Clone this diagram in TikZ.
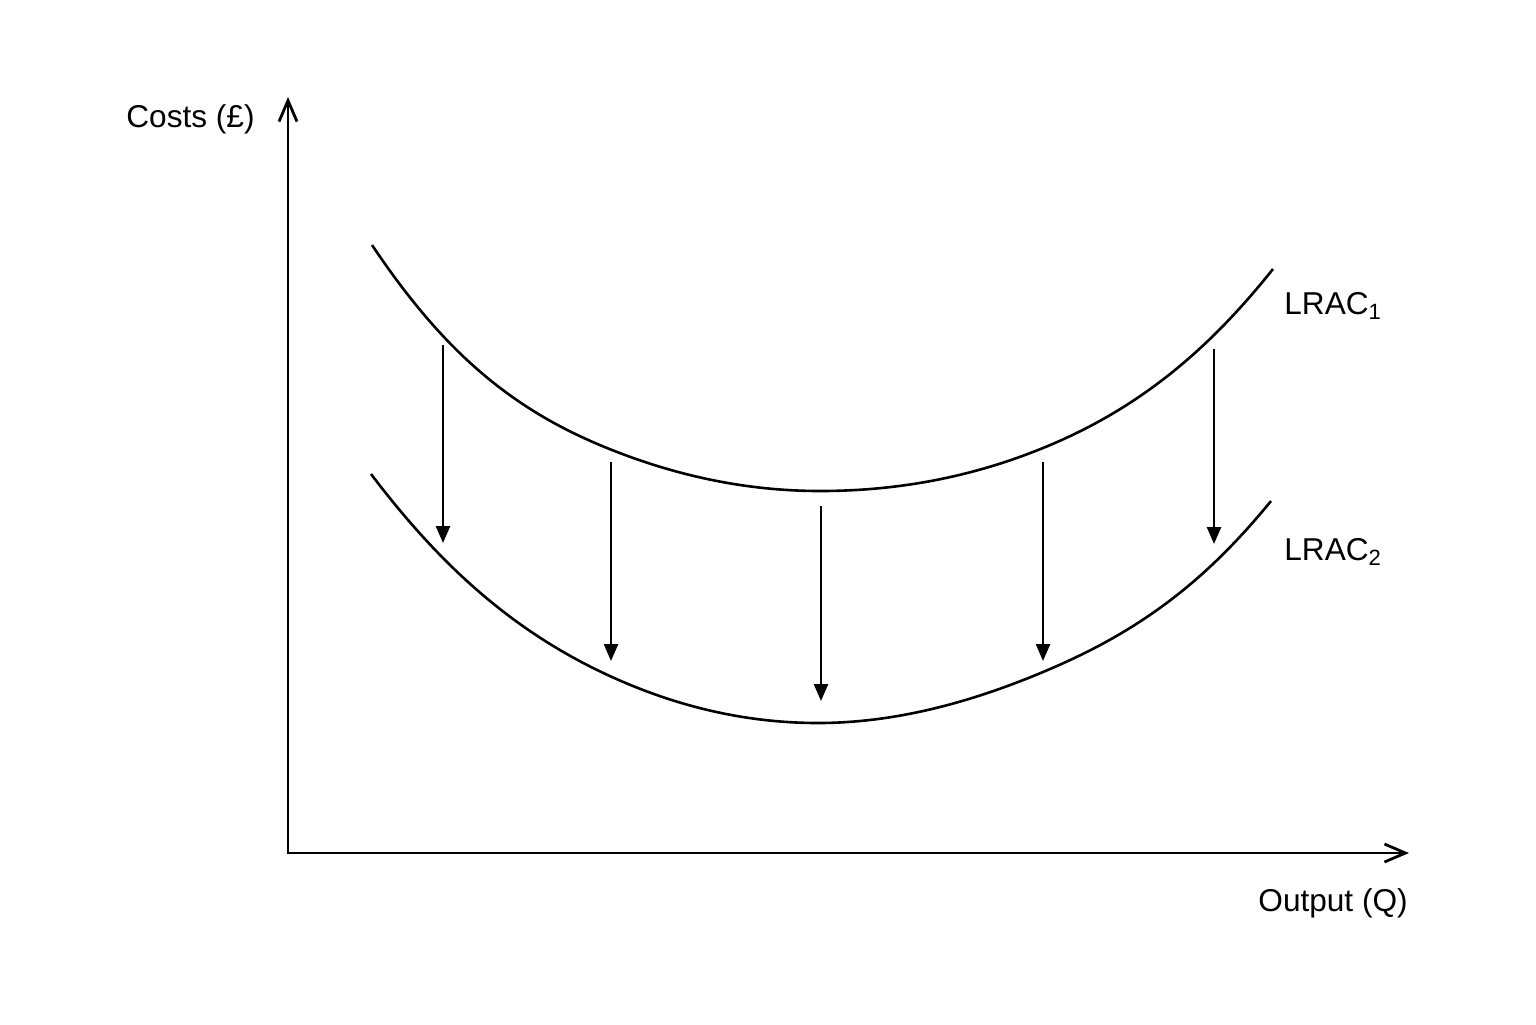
\documentclass[tikz,border=0pt]{standalone}
\usepackage{fontspec}
\setmainfont{Liberation Sans}
\usetikzlibrary{arrows.meta}
\begin{document}
\begin{tikzpicture}[x=0.5pt,y=-0.5pt,
  axis/.style={line width=1.4pt,line join=miter,
    {Straight Barb[length=10.5pt,width=9pt]}-{Straight Barb[length=10.5pt,width=9pt]}},
  costcurve/.style={line width=1.3pt},
  shiftarrow/.style={line width=1.25pt,-{Triangle[length=8.5pt,width=7pt]}},
  lbl/.style={font=\fontsize{15.8}{18}\selectfont,inner sep=0pt,anchor=base west}]
\useasboundingbox[fill=white] (0,0) rectangle (1536,1024);

% axes
\coordinate (O) at (288,853);
\coordinate (ytip) at (288,97);
\coordinate (xtip) at (1409,853);
\draw[axis] (ytip) -- (O) -- (xtip);

% LRAC1
\coordinate (U1) at (372,245);
\coordinate (U2) at (443,336);
\coordinate (U3) at (612,450);
\coordinate (U4) at (820,491);
\coordinate (U5) at (1043,448);
\coordinate (U6) at (1214,335);
\coordinate (U7) at (1273,269);
\draw[costcurve] (U1)
  .. controls (395.67,280.41) and (419.33,310.72) .. (U2)
  .. controls (499.33,396.16) and (555.67,427.69) .. (U3)
  .. controls (681.33,477.46) and (750.67,491) .. (U4)
  .. controls (894.33,491) and (968.67,478.33) .. (U5)
  .. controls (1100,424.74) and (1157,391.03) .. (U6)
  .. controls (1233.67,315.67) and (1253.33,293.66) .. (U7);

% LRAC2
\coordinate (L1) at (371,474);
\coordinate (L2) at (443,558);
\coordinate (L3) at (612,677);
\coordinate (L4) at (818,723);
\coordinate (L5) at (1043,672);
\coordinate (L6) at (1214,563);
\coordinate (L7) at (1271,501);
\draw[costcurve] (L1)
  .. controls (395,505.72) and (419,533.72) .. (L2)
  .. controls (499.33,614.99) and (555.67,651.46) .. (L3)
  .. controls (680.67,708.13) and (749.33,723) .. (L4)
  .. controls (893,723) and (968,703.5) .. (L5)
  .. controls (1100,648.06) and (1157,617.21) .. (L6)
  .. controls (1233,544.93) and (1252,524.26) .. (L7);

% shift arrows
\coordinate (a1s) at (443,345);  \coordinate (a1e) at (443,543);
\coordinate (a2s) at (611,462);  \coordinate (a2e) at (611,661);
\coordinate (a3s) at (821,506);  \coordinate (a3e) at (821,701);
\coordinate (a4s) at (1043,462); \coordinate (a4e) at (1043,661);
\coordinate (a5s) at (1214,349); \coordinate (a5e) at (1214,544);
\draw[shiftarrow] (a1s) -- (a1e);
\draw[shiftarrow] (a2s) -- (a2e);
\draw[shiftarrow] (a3s) -- (a3e);
\draw[shiftarrow] (a4s) -- (a4e);
\draw[shiftarrow] (a5s) -- (a5e);

% labels
\node[lbl] (costs) at (126,127) {Costs (£)};
\node[lbl] (lrac1) at (1284,314) {LRAC\textsubscript{1}};
\node[lbl] (lrac2) at (1284,560) {LRAC\textsubscript{2}};
\node[lbl] (output) at (1258,911) {Output (Q)};
\end{tikzpicture}
\end{document}
